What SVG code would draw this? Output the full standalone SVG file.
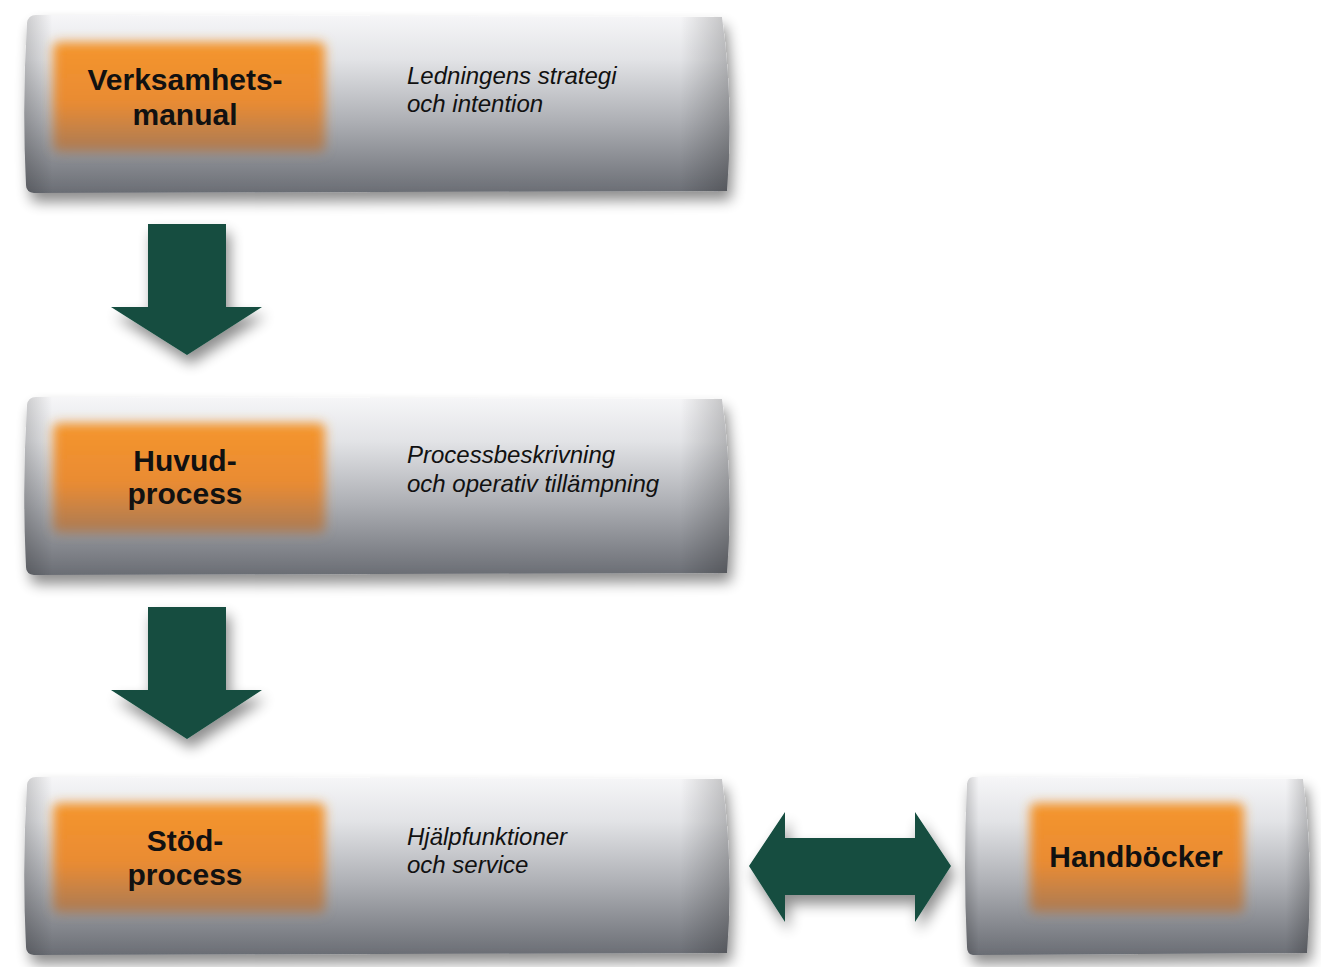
<svg xmlns="http://www.w3.org/2000/svg" width="1321" height="967" viewBox="0 0 1321 967">
<defs>
<linearGradient id="gv" x1="0" y1="0" x2="0" y2="1">
<stop offset="0" stop-color="#f6f6f8"/>
<stop offset="0.25" stop-color="#e2e3e6"/>
<stop offset="0.6" stop-color="#adafb4"/>
<stop offset="1" stop-color="#6a6d74"/>
</linearGradient>
<linearGradient id="gh" x1="0" y1="0" x2="1" y2="0">
<stop offset="0" stop-color="#000" stop-opacity="0.18"/>
<stop offset="0.04" stop-color="#000" stop-opacity="0"/>
<stop offset="0.93" stop-color="#000" stop-opacity="0"/>
<stop offset="1" stop-color="#000" stop-opacity="0.22"/>
</linearGradient>
<linearGradient id="go" x1="0" y1="0" x2="0" y2="1">
<stop offset="0" stop-color="#f5952b"/>
<stop offset="0.55" stop-color="#e98b33"/>
<stop offset="1" stop-color="#a87a56"/>
</linearGradient>
<filter id="sh" x="-10%" y="-20%" width="125%" height="150%">
<feGaussianBlur in="SourceAlpha" stdDeviation="7"/>
<feOffset dx="4" dy="9" result="b"/>
<feComponentTransfer><feFuncA type="linear" slope="0.45"/></feComponentTransfer>
<feMerge><feMergeNode/><feMergeNode in="SourceGraphic"/></feMerge>
</filter>
<filter id="blur" x="-10%" y="-20%" width="120%" height="140%">
<feGaussianBlur stdDeviation="5.5"/>
</filter>
<path id="bigbox" d="M36 0 L722 2 Q734 88 727 176 L34 178 Q26 177 26 170 Q22 89 27 8 Q28 0 36 0 Z"/>
<path id="smallbox" d="M8 0 L338 2 Q349 88 342 176 L8 178 Q2 177 2 170 Q-2 89 2 7 Q3 0 8 0 Z"/>
</defs>
<style>
.b{font-family:"Liberation Sans",Arial,sans-serif;font-weight:bold;font-size:30px;fill:#111;text-anchor:middle}
.i{font-family:"Liberation Sans",Arial,sans-serif;font-style:italic;font-size:24px;fill:#111}
.arr{fill:#134d3f}
</style>
<rect width="1321" height="967" fill="#ffffff"/>

<g id="node-verksamhetsmanual" transform="translate(0,15)">
<g filter="url(#sh)"><use href="#bigbox" fill="url(#gv)"/></g>
<use href="#bigbox" fill="url(#gh)"/>
<rect x="53" y="27" width="272" height="110" rx="6" fill="url(#go)" filter="url(#blur)"/>
<text class="b" x="185" y="75">Verksamhets-</text>
<text class="b" x="185" y="110">manual</text>
<text class="i" x="407" y="69">Ledningens strategi</text>
<text class="i" x="407" y="97">och intention</text>
</g>

<g id="node-huvudprocess" transform="translate(0,397)">
<g filter="url(#sh)"><use href="#bigbox" fill="url(#gv)"/></g>
<use href="#bigbox" fill="url(#gh)"/>
<rect x="53" y="26" width="272" height="110" rx="6" fill="url(#go)" filter="url(#blur)"/>
<text class="b" x="185" y="74">Huvud-</text>
<text class="b" x="185" y="107">process</text>
<text class="i" x="407" y="66">Processbeskrivning</text>
<text class="i" x="407" y="95">och operativ tillämpning</text>
</g>

<g id="node-stodprocess" transform="translate(0,777)">
<g filter="url(#sh)"><use href="#bigbox" fill="url(#gv)"/></g>
<use href="#bigbox" fill="url(#gh)"/>
<rect x="53" y="26" width="272" height="110" rx="6" fill="url(#go)" filter="url(#blur)"/>
<text class="b" x="185" y="74">Stöd-</text>
<text class="b" x="185" y="108">process</text>
<text class="i" x="407" y="68">Hjälpfunktioner</text>
<text class="i" x="407" y="96">och service</text>
</g>

<g id="node-handbocker" transform="translate(965,777)">
<g filter="url(#sh)"><use href="#smallbox" fill="url(#gv)"/></g>
<use href="#smallbox" fill="url(#gh)"/>
<rect x="65" y="26" width="214" height="110" rx="6" fill="url(#go)" filter="url(#blur)"/>
<text class="b" x="171" y="90">Handböcker</text>
</g>

<g id="connectors" filter="url(#sh)">
<path class="arr" d="M148 224 L226 224 L226 307 L262 307 L187 355 L111 307 L148 307 Z"/>
<path class="arr" d="M148 607 L226 607 L226 690 L262 690 L187 739 L111 690 L148 690 Z"/>
<path class="arr" d="M749 866 L785 812 L785 838 L915 838 L915 812 L951 866 L915 922 L915 895 L785 895 L785 922 Z"/>
</g>
</svg>
